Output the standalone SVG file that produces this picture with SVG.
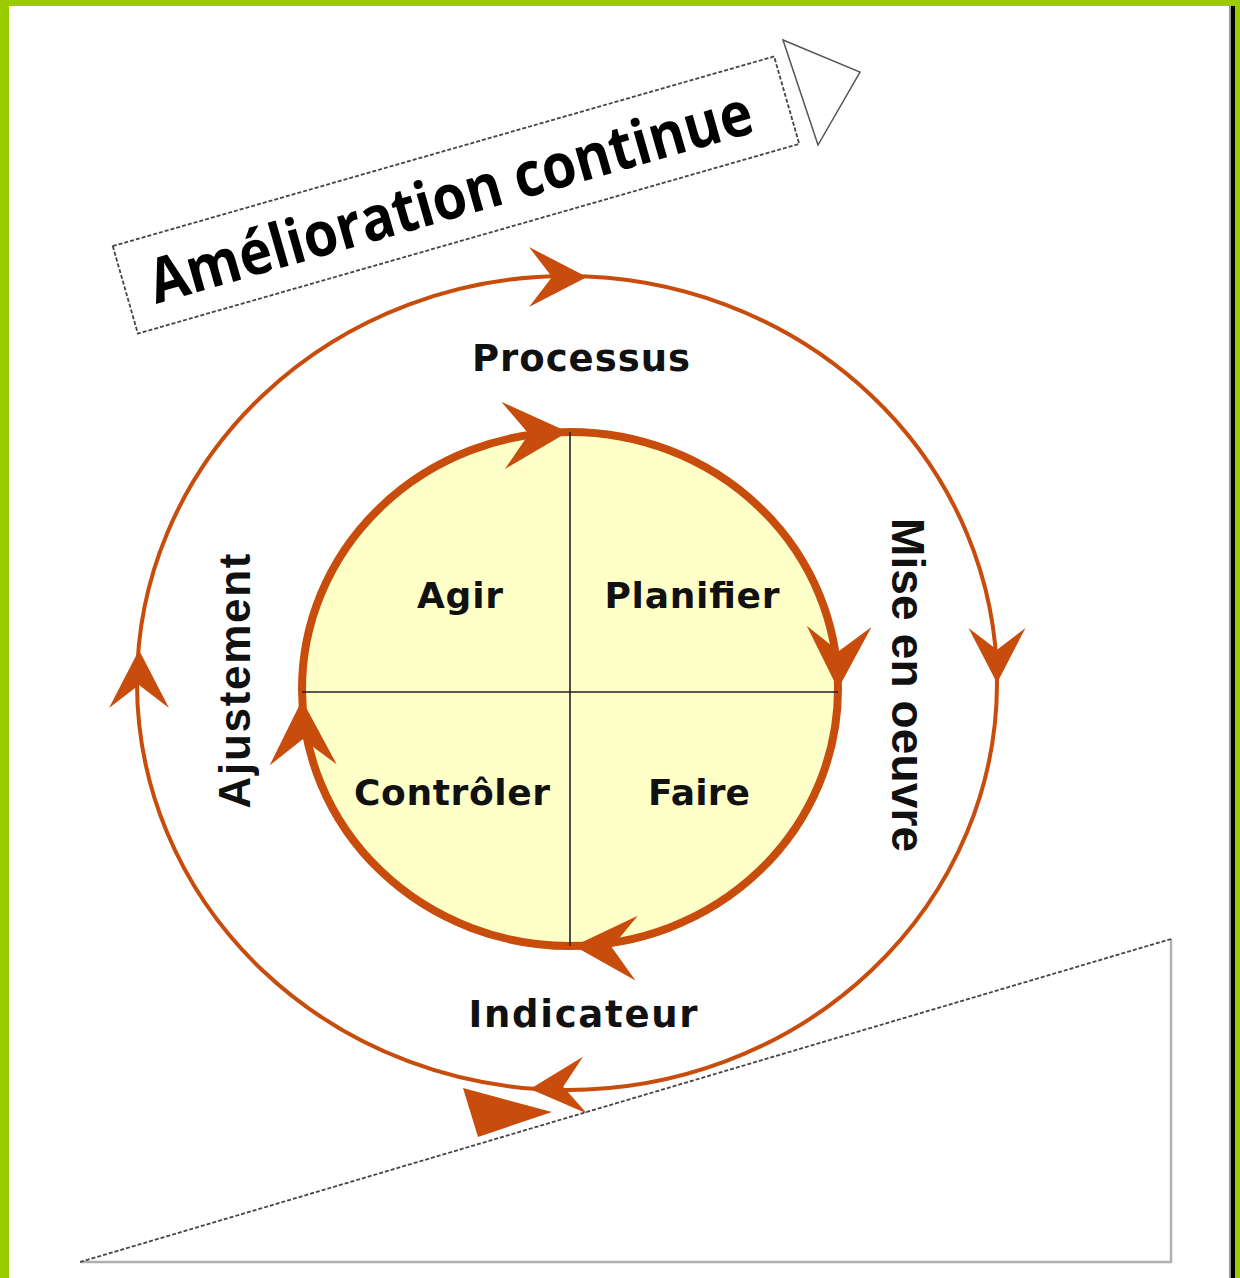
<svg xmlns="http://www.w3.org/2000/svg" xmlns:xlink="http://www.w3.org/1999/xlink" width="1240" height="1278" viewBox="0 0 1240 1278">
  <style>
    .thin { fill: none; stroke: #444; stroke-width: 1.8; stroke-dasharray: 4 2; }
    .solidgrey { fill: none; stroke: #b0b0b0; stroke-width: 2.5; }
    .cycle { fill: none; stroke: #c84c0c; }
    .head { fill: #c84c0c; stroke: none; }
    .lbl { font-family: "DejaVu Sans", "Liberation Sans", sans-serif; font-weight: bold; fill: #111; text-anchor: middle; }
    .vlbl { font-family: "Liberation Sans", Arial, sans-serif; font-weight: bold; fill: #111; text-anchor: middle; }
    .banner { font-family: "Open Sans", "Liberation Sans", sans-serif; font-weight: 700; fill: #000; text-anchor: middle; }
  </style>
  <defs>
    <path id="ah" d="M0,0 L-58,-30 L-35,0 L-58,30 Z"/>
  </defs>

  <!-- frame -->
  <rect x="0" y="0" width="1240" height="1278" fill="#ffffff"/>
  <rect x="0" y="0" width="1240" height="6" fill="#9bcc00"/>
  <rect x="0" y="0" width="9" height="1278" fill="#9bcc00"/>
  <rect x="1229" y="6" width="2" height="1272" fill="#999"/>
  <rect x="1231" y="6" width="4" height="1272" fill="#000"/>
  <rect x="1235" y="0" width="5" height="1278" fill="#9bcc00"/>

  <!-- ramp -->
  <g id="ramp">
    <path class="solidgrey" d="M1171,939 L1171,1262 L80,1262"/>
    <path class="thin" d="M80,1262 L1171,939"/>
    <polygon points="463,1088 552,1112 478,1137" fill="#c84c0c"/>
  </g>

  <!-- banner -->
  <g id="banner">
    <g transform="translate(456,195) rotate(-16)">
      <rect class="thin" x="-344" y="-45.5" width="688" height="91" fill="#fff"/>
      <text class="banner" x="-6" y="22" font-size="62" textLength="625" lengthAdjust="spacingAndGlyphs">Amélioration continue</text>
    </g>
    <polygon points="783,40 860,72 818,145" fill="#fff" stroke="#555" stroke-width="1.5"/>
  </g>

  <!-- outer cycle -->
  <g id="outer-cycle">
    <ellipse class="cycle" cx="567" cy="683" rx="430" ry="407" stroke-width="4"/>
  </g>

  <!-- inner PDCA circle -->
  <g id="pdca">
    <ellipse cx="570" cy="689" rx="268" ry="257" fill="#ffffc8" stroke="#c84c0c" stroke-width="8"/>
    <line x1="570" y1="432" x2="570" y2="946" stroke="#222" stroke-width="1.6"/>
    <line x1="302" y1="692" x2="838" y2="692" stroke="#222" stroke-width="1.6"/>
  </g>

  <g id="node-agir"><text class="lbl" x="460" y="608" font-size="36" textLength="86">Agir</text></g>
  <g id="node-planifier"><text class="lbl" x="692" y="608" font-size="36" textLength="175">Planifier</text></g>
  <g id="node-controler"><text class="lbl" x="452" y="805" font-size="36" textLength="196">Contrôler</text></g>
  <g id="node-faire"><text class="lbl" x="699" y="805" font-size="36" textLength="102">Faire</text></g>

  <g id="node-processus"><text class="lbl" x="581" y="371" font-size="37" textLength="218">Processus</text></g>
  <g id="node-indicateur"><text class="lbl" x="583" y="1027" font-size="37" textLength="229">Indicateur</text></g>
  <g id="node-mise"><text class="vlbl" transform="translate(892,685) rotate(90)" x="0" y="0" font-size="46" textLength="334">Mise en oeuvre</text></g>
  <g id="node-ajustement"><text class="vlbl" transform="translate(250,681) rotate(-90)" x="0" y="0" font-size="44" textLength="255">Ajustement</text></g>

  <!-- connectors: arrowheads on the cycles -->
  <g id="connectors">
    <use xlink:href="#ah" href="#ah" class="head" transform="translate(587,277) rotate(0)"/>
    <use xlink:href="#ah" href="#ah" class="head" transform="translate(997,683) rotate(90) scale(0.95)"/>
    <use xlink:href="#ah" href="#ah" class="head" transform="translate(530,1089) rotate(176) scale(0.95)"/>
    <use xlink:href="#ah" href="#ah" class="head" transform="translate(139,650) rotate(-90)"/>
    <use xlink:href="#ah" href="#ah" class="head" transform="translate(568,432) rotate(-3) scale(1.12)"/>
    <use xlink:href="#ah" href="#ah" class="head" transform="translate(838,689) rotate(91) scale(1.08)"/>
    <use xlink:href="#ah" href="#ah" class="head" transform="translate(574,946) rotate(182) scale(1.08)"/>
    <use xlink:href="#ah" href="#ah" class="head" transform="translate(302,700) rotate(-91) scale(1.12)"/>
  </g>
</svg>
